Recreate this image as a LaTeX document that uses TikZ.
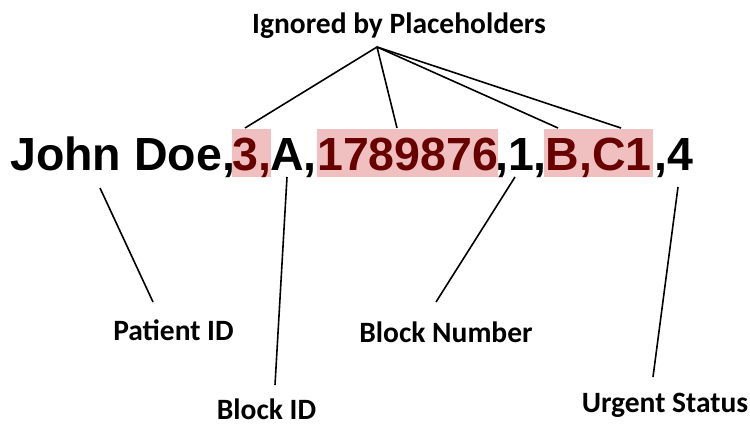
\documentclass[tikz,border=0pt]{standalone}
\usepackage{fontspec}
\setmainfont{Liberation Sans}
\newfontfamily\labelfont{Carlito}
\definecolor{hlfill}{RGB}{240,192,192}
\definecolor{hltext}{RGB}{104,0,0}
\tikzset{
  piece/.style={inner sep=0pt, text height=41pt, text depth=7pt,
    font=\fontsize{46.5}{50}\selectfont\bfseries},
  marked/.style={piece, fill=hlfill, text=hltext},
  tag/.style={inner sep=0pt, text depth=0pt,
    font=\labelfont\fontsize{29.5}{32}\selectfont\bfseries},
  link/.style={line width=1.6pt, black}
}
\begin{document}
\begin{tikzpicture}[x=1pt, y=-1pt]
  \useasboundingbox (0,0) rectangle (750,424);

  % the record line, split into plain and highlighted fields
  \node[piece,  anchor=base west] (p1) at (10,170) {John Doe,};
  \node[marked, anchor=base west] (p2) at (232,170) {3,};
  \node[piece,  anchor=base west] (p3) at (270,170) {A,};
  \node[marked, anchor=base west] (p4) at (317,170) {1789876};
  \node[piece,  anchor=base west] (p5) at (495,170) {,1,};
  \node[marked, anchor=base west, inner xsep=1.5pt] (p6) at (544,170) {B,C1};
  \node[piece,  anchor=base west] (p7) at (654,170) {,4};

  % field labels
  \node[tag, anchor=base] (ign) at (399,33) {Ignored by Placeholders};
  \node[tag, anchor=base] (pid) at (173.5,340) {Patient ID};
  \node[tag, anchor=base] (bid) at (266.5,419) {Block ID};
  \node[tag, anchor=base] (bnum) at (446,342) {Block Number};
  \node[tag, anchor=base] (urg) at (665,412) {Urgent Status};

  % connector end points
  \coordinate (apex) at (377,47);
  \coordinate (t2) at (245,128);
  \coordinate (t4) at (397,128);
  \coordinate (t6a) at (558,128);
  \coordinate (t6b) at (621,128);
  \coordinate (b1) at (100,188);
  \coordinate (e1) at (153,302);
  \coordinate (b3) at (287,177);
  \coordinate (e3) at (275,385);
  \coordinate (b5) at (515,177);
  \coordinate (e5) at (436,302);
  \coordinate (b7) at (678,187);
  \coordinate (e7) at (653,377);

  \draw[link] (t2) -- (apex) -- (t4);
  \draw[link] (apex) -- (t6a);
  \draw[link] (apex) -- (t6b);
  \draw[link] (b1) -- (e1);
  \draw[link] (b3) -- (e3);
  \draw[link] (b5) -- (e5);
  \draw[link] (b7) -- (e7);
\end{tikzpicture}
\end{document}
